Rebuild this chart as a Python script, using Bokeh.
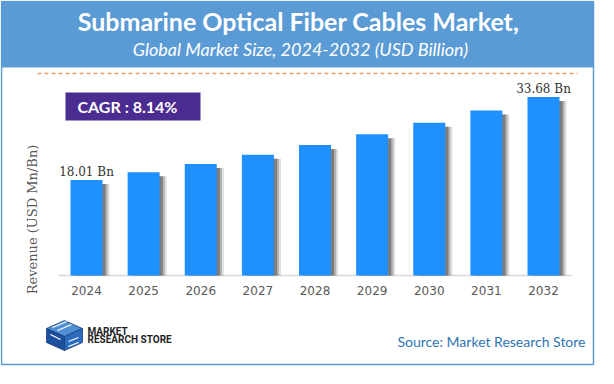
import math
from bokeh.plotting import figure
from bokeh.models import Range1d, ColumnDataSource
from bokeh.transform import dodge
from bokeh.core.properties import value
from bokeh.embed import file_html
from bokeh.resources import INLINE

# ---------------- data ----------------
years = ["2024", "2025", "2026", "2027", "2028", "2029", "2030", "2031", "2032"]
revenue = [18.01, 19.48, 21.06, 22.78, 24.63, 26.64, 28.81, 31.15, 33.68]
cagr = 8.14
unit = "Bn"
title_text = "Submarine Optical Fiber Cables Market,"
subtitle_text = "Global Market Size, 2024-2032 (USD Billion)"
y_label_text = "Revenue (USD Mn/Bn)"
source_text = "Source: Market Research Store"
logo_lines = ["MARKET", "RESEARCH STORE"]

# ---------------- layout constants ----------------
W, H = 598, 368
PX_PER_CAT = 57.125
PX_PER_VAL = 5.3
BASE = 275          # pixel row of value 0
FIRST_CENTER = 86   # pixel column of first category centre

p = figure(width=W, height=H, x_range=Range1d(0, W), y_range=Range1d(H, 0),
           x_axis_type=None, y_axis_type=None, min_border=0,
           toolbar_location=None, output_backend="svg", title=None,
           background_fill_color="white", border_fill_color="white",
           outline_line_color=None)

p.extra_x_ranges = {"cat": Range1d(-FIRST_CENTER / PX_PER_CAT, (W - FIRST_CENTER) / PX_PER_CAT)}
p.extra_y_ranges = {"val": Range1d(-(H - BASE) / PX_PER_VAL, BASE / PX_PER_VAL)}

# ---------------- frame & header ----------------
p.quad(left=[1], right=[593], top=[1], bottom=[364], fill_color=None,
       line_color="#5B9BD5", line_width=1.5)
p.quad(left=[1], right=[593], top=[1], bottom=[67], fill_color="#5B9BD5",
       line_color=None)
p.text(x=[298], y=[20], text=[title_text], text_align="center", text_baseline="middle",
       text_font=value("Lato"), text_font_style="bold", text_font_size="25px",
       text_color="white")
p.text(x=[300], y=[48], text=[subtitle_text], text_align="center", text_baseline="middle",
       text_font=value("Lato"), text_font_style="italic", text_font_size="18px",
       text_color="white")

# dashed separator
p.segment(x0=[37], y0=[73], x1=[577], y1=[73], line_color="#ED7D31", line_alpha=0.75,
          line_width=1.5, line_dash="4 3")

# CAGR box
p.quad(left=[65], right=[200], top=[92], bottom=[120], fill_color="#4B2D91", line_color=None)
p.text(x=[77], y=[106], text=[f"CAGR :  {cagr:.2f}%"], text_align="left",
       text_baseline="middle", text_font=value("Lato"), text_font_style="bold",
       text_font_size="16px", text_color="white")

# ---------------- bars ----------------
src = ColumnDataSource(dict(
    pos=list(range(len(years))),
    year=years, revenue=revenue,
    shadow_top=[v - 4 / PX_PER_VAL for v in revenue],
))

p.segment(x0=[58], x1=[571], y0=[0], y1=[0], y_range_name="val",
          line_color="#D9D9D9", line_width=1.3)

for off, a in [(0.125, 0.12), (0.09, 0.2), (0.055, 0.3)]:
    p.vbar(x=dodge("pos", off), top="shadow_top", bottom=0, width=0.56,
           source=src, x_range_name="cat", y_range_name="val",
           fill_color="black", fill_alpha=a, line_color=None)

p.vbar(x="pos", top="revenue", bottom=0, width=0.56,
       source=src, x_range_name="cat", y_range_name="val",
       fill_color="#1E90FF", line_color=None)

# category labels
p.text(x="pos", y=290, text="year", source=src,
       x_range_name="cat", text_align="center", text_baseline="middle",
       text_font=value("DejaVu Sans"), text_font_size="12px", text_color="#595959")

# value labels (first & last)
lab = ColumnDataSource(dict(
    pos=[0, len(years) - 1],
    revenue=[revenue[0], revenue[-1]],
    label=[f"{revenue[0]:.2f} {unit}", f"{revenue[-1]:.2f} {unit}"],
))
p.text(x="pos", y="revenue", text="label", source=lab,
       x_range_name="cat", y_range_name="val", y_offset=-8,
       text_align="center", text_baseline="alphabetic",
       text_font=value("DejaVu Serif"), text_font_size="12px", text_color="#333333")

# y axis title
p.text(x=[32], y=[219], text=[y_label_text], angle=math.pi / 2,
       text_align="center", text_baseline="middle",
       text_font=value("DejaVu Serif"), text_font_size="13px", text_color="#595959")

# ---------------- footer ----------------
# logo cube
p.patches(xs=[[46, 64, 82, 64], [46, 64, 64, 46], [64, 82, 82, 64]],
          ys=[[328, 320, 328, 336], [328, 336, 350, 342], [336, 328, 342, 350]],
          fill_color=["#4F8FD6", "#1C4F9C", "#2B6CC0"], line_color="#1A3F7A", line_width=0.8)
p.multi_line(xs=[[52, 66], [57, 71], [50, 60], [68, 78], [68, 78]],
             ys=[[327, 321], [330, 324], [334, 339], [341, 337], [346, 342]],
             line_color="white", line_width=1.3)
p.text(x=[87, 87], y=[330.5, 338.5], text=logo_lines, text_align="left",
       text_baseline="middle", text_font=value("Roboto"), text_font_style="bold",
       text_font_size="10px", text_color="#1F1F1F")

p.text(x=[585], y=[341], text=[source_text], text_align="right", text_baseline="middle",
       text_font=value("Lato"), text_font_size="14px", text_color="#2E75B6")

open("out.html", "w").write(file_html(p, INLINE))
